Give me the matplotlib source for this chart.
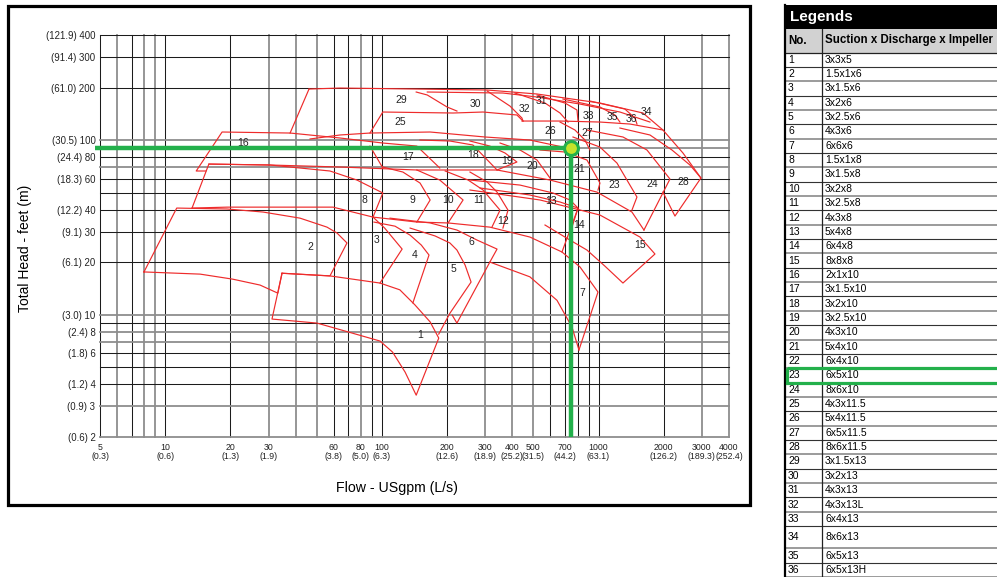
import matplotlib.pyplot as plt
from matplotlib.patches import Rectangle
from matplotlib.ticker import NullLocator

plt.rcParams['font.family'] = ['Liberation Sans', 'DejaVu Sans']

red = '#ee2b2b'
green = '#23b04b'

# axis ticks: US gpm / ft with metric equivalents
x_ticks = [5, 10, 20, 30, 60, 80, 100, 200, 300, 400, 500, 700, 1000, 2000, 3000, 4000]
x_ls = ['0.3', '0.6', '1.3', '1.9', '3.8', '5.0', '6.3', '12.6', '18.9', '25.2',
        '31.5', '44.2', '63.1', '126.2', '189.3', '252.4']
y_ticks = [2, 3, 4, 6, 8, 10, 20, 30, 40, 60, 80, 100, 200, 300, 400]
y_m = ['0.6', '0.9', '1.2', '1.8', '2.4', '3.0', '6.1', '9.1', '12.2', '18.3',
       '24.4', '30.5', '61.0', '91.4', '121.9']

x_grid = [5, 6, 7, 8, 9, 10, 20, 30, 40, 50, 60, 70, 80, 90, 100, 200, 300, 400,
          500, 600, 700, 800, 900, 1000, 2000, 3000, 4000]
x_grid_grey = [6, 8, 9, 30, 40, 50, 80, 300, 400, 500, 3000, 4000]
y_grid = [2, 3, 4, 5, 6, 7, 8, 9, 10, 20, 30, 40, 50, 60, 70, 80, 90, 100, 200, 300, 400]
y_grid_grey = [2, 3, 7, 8, 10, 70, 90, 100]

# coverage outlines (flow gpm, head ft)
coverage_lines = [
    ([34.6, 57.6, 98.0, 121, 142, 167, 183, 144, 128, 112, 98.0, 67.5, 50.2, 31.1, 34.6],
     [17.3, 16.7, 15.2, 13.9, 11.4, 9.1, 7.35, 3.46, 4.69, 6.11, 7.07, 8.07, 8.96, 9.45, 17.3]),
    ([7.98, 11.3, 19.3, 28.3, 41.9, 55.8, 62.1, 69.0, 57.6, 34.6, 33.1, 27.4, 20.5, 14.5, 7.98],
     [17.6, 40.9, 40.4, 38.8, 35.8, 31.8, 29.4, 25.8, 16.7, 17.3, 13.3, 14.8, 16.0, 17.1, 17.6]),
    ([13.3, 19.3, 59.5, 91.0, 145, 202, 315, 482, 678, 821, 994, 812],
     [40.9, 41.4, 41.4, 36.3, 34.0, 33.6, 31.8, 27.9, 22.9, 18.8, 13.5, 6.28]),
    ([812, 754, 643, 482, 315], [6.28, 8.50, 12.1, 16.5, 20.05]),
    ([91.0, 103, 124, 98.0], [36.3, 31.4, 23.8, 15.2]),
    ([91.9, 115, 135, 152, 165, 139], [34.0, 32.2, 28.6, 25.1, 22.0, 11.7]),
    ([135, 176, 206, 222, 242, 258, 206, 183], [31.4, 28.3, 25.8, 23.5, 19.3, 15.4, 10.2, 7.75]),
    ([109, 167, 222, 275, 340, 315, 222, 211], [35.8, 33.6, 30.6, 26.8, 23.8, 20.05, 8.96, 9.96]),
    ([13.3, 15.9, 30.4, 57.6, 76.7, 101, 91.0], [40.9, 73.1, 72.2, 66.7, 59.2, 49.9, 36.3]),
    ([101, 125, 150, 167, 145], [70.3, 65.8, 56.9, 45.5, 34.0]),
    ([145, 185, 237, 202], [67.6, 59.2, 45.5, 33.6]),
    ([196, 250, 293, 351, 322], [66.7, 59.2, 51.9, 39.8, 31.8]),
    ([255, 306, 340, 382, 362], [65.8, 57.7, 50.5, 39.8, 31.4]),
    ([255, 434, 616, 738, 804, 754], [59.2, 55.4, 49.9, 45.5, 40.9, 31.8]),
    ([284, 482, 664, 804, 678], [53.3, 48.6, 44.3, 40.9, 22.9]),
    ([255, 537, 1015, 1553, 1821, 1296, 1070, 884, 738, 566],
     [51.9, 45.5, 37.3, 27.9, 22.3, 15.2, 19.0, 23.5, 26.8, 32.7]),
    ([15.4, 13.9, 18.3, 37.7, 64.1, 101, 145, 185], [66.7, 66.7, 111.6, 110.1, 103.1, 96.5, 92.7, 69.4]),
    ([88.1, 101], [92.7, 69.4]),
    ([15.9, 30.4, 64.1, 145, 340, 597, 983, 1426, 1620], [73.1, 72.2, 70.3, 67.6, 67.6, 59.2, 50.5, 38.8, 30.6]),
    ([46.6, 64.1, 88.1, 167, 299, 482, 685], [101.8, 107.3, 110.1, 111.6, 104.5, 100.4, 91.5]),
    ([150, 206, 263, 340], [100.4, 99.1, 94.0, 67.6]),
    ([255, 315, 370, 420, 340], [99.1, 92.7, 84.6, 75.1, 67.6]),
    ([351, 434, 520, 597], [96.5, 88.0, 77.1, 60.8]),
    ([537, 700, 884, 1015, 994], [88.0, 85.7, 77.1, 56.9, 51.9]),
    ([762, 1015, 1216, 1504, 1426], [104.5, 91.5, 74.1, 47.3, 39.8]),
    ([884, 1296, 1673, 2136, 1620], [114.6, 104.5, 88.0, 60.0, 30.6]),
    ([1255, 1727, 2182, 2641, 2969, 2252, 1982], [117.6, 107.3, 88.0, 72.2, 60.8, 36.8, 50.5]),
    ([664, 778, 865, 913], [127.3, 114.6, 100.4, 88.0]),
    ([46.1, 64.1, 144, 306, 520, 1015, 1603, 1982, 2452, 2969],
     [196.8, 199.4, 196.8, 194.3, 184.3, 163.6, 143.4, 114.6, 84.6, 60.8]),
    ([37.7, 46.1], [110.1, 196.8]),
    ([144, 162, 200, 222], [189.2, 181.9, 155.2, 147.2]),
    ([306, 390, 443, 448], [191.8, 157.2, 134.2, 129.0]),
    ([411, 566, 664, 723], [186.7, 163.6, 143.4, 127.3]),
    ([520, 700, 795, 804], [181.9, 163.6, 149.2, 129.0]),
    ([685, 1015, 1190, 1255], [172.5, 155.2, 139.7, 127.3]),
    ([913, 1323, 1472, 1504], [168.0, 151.1, 134.2, 124.0]),
    ([443, 664, 1015, 1396, 1982], [129.0, 129.0, 127.3, 124.0, 114.6]),
    ([88.1, 101, 213, 293, 420, 448], [110.1, 145.3, 143.4, 145.3, 139.7, 129.0]),
    ([162, 362, 520, 821, 1255, 1727], [189.2, 186.7, 177.1, 161.4, 145.3, 127.3]),
]

# region numbers and where they sit
label_no = [1, 2, 3, 4, 5, 6, 7, 8, 9, 10, 11, 12, 13, 14, 15, 16, 17, 18, 19, 20,
            21, 23, 24, 25, 26, 27, 28, 29, 30, 31, 32, 33, 34, 35, 36]
label_q = [150, 46.6, 94.9, 141, 215, 258, 838, 82.7, 138, 202, 281, 362, 603, 812, 1553,
           22.8, 132, 263, 378, 493, 812, 1178, 1764, 121, 597, 884, 2452, 122.5, 269,
           548, 457, 894, 1655, 1153, 1411]
label_h = [7.65, 24.4, 26.8, 22.0, 18.3, 26.1, 13.3, 45.5, 45.5, 45.5, 45.5, 34.5, 44.9, 32.7,
           25.1, 96.5, 80.2, 82.3, 76.1, 71.2, 68.4, 55.4, 56.2, 127.3, 113.1, 110.1, 57.7,
           170.2, 161.4, 168.0, 151.1, 137.9, 145.3, 136.1, 132.4]

# selected duty point and pump
sel_q, sel_h = 745, 90
sel_row = 23

sizes = ['3x3x5', '1.5x1x6', '3x1.5x6', '3x2x6', '3x2.5x6', '4x3x6', '6x6x6', '1.5x1x8',
         '3x1.5x8', '3x2x8', '3x2.5x8', '4x3x8', '5x4x8', '6x4x8', '8x8x8', '2x1x10',
         '3x1.5x10', '3x2x10', '3x2.5x10', '4x3x10', '5x4x10', '6x4x10', '6x5x10', '8x6x10',
         '4x3x11.5', '5x4x11.5', '6x5x11.5', '8x6x11.5', '3x1.5x13', '3x2x13', '4x3x13',
         '4x3x13L', '6x4x13', '8x6x13', '6x5x13', '6x5x13H']

W, H = 997, 577
fig = plt.figure(figsize=(W / 100, H / 100), dpi=100)
ax = fig.add_axes([100 / W, 1 - 436.7 / H, 629 / W, 401.4 / H])
ax.set_xscale('log')
ax.set_yscale('log')
ax.set_xlim(5, 4000)
ax.set_ylim(2, 400)

for v in x_grid:
    grey = v in x_grid_grey
    ax.axvline(v, color='#8e8e8e' if grey else '#1c1c1c', lw=1.3 if grey else 0.75,
               zorder=1, clip_on=False)
for v in y_grid:
    grey = v in y_grid_grey
    ax.axhline(v, color='#8e8e8e' if grey else '#1c1c1c', lw=1.3 if grey else 0.75,
               zorder=1, clip_on=False)

for q, h in coverage_lines:
    ax.plot(q, h, color=red, lw=0.85, zorder=3)

for n, q, h in zip(label_no, label_q, label_h):
    ax.text(q, h, str(n), fontsize=7.5, ha='center', va='center', color='#222222', zorder=4)

# selection cross-hair
x0 = ax.get_xlim()[0] * 0.95
ax.plot([x0, sel_q], [sel_h, sel_h], color=green, lw=3.2, solid_capstyle='butt',
        clip_on=False, zorder=5)
ax.plot([sel_q, sel_q], [sel_h, ax.get_ylim()[0]], color=green, lw=3.2,
        solid_capstyle='butt', zorder=5)
ax.plot(sel_q, sel_h, 'o', ms=10, mfc='#c6e32a', mec=green, mew=2.2, zorder=6)

ax.set_xticks(x_ticks)
ax.set_xticklabels(['%d\n(%s)' % (v, m) for v, m in zip(x_ticks, x_ls)],
                   linespacing=1.05, fontsize=6.3)
ax.set_yticks(y_ticks)
ax.set_yticklabels(['(%s) %d' % (m, v) for v, m in zip(y_ticks, y_m)], fontsize=6.9)
ax.xaxis.set_minor_locator(NullLocator())
ax.yaxis.set_minor_locator(NullLocator())
ax.tick_params(axis='both', length=0, colors='#222222')
ax.tick_params(axis='x', pad=4.5)
ax.tick_params(axis='y', pad=3.3)
for s in ax.spines.values():
    s.set_visible(False)

fig.text(396.5 / W, 1 - 488.3 / H, 'Flow - USgpm (L/s)', fontsize=10.2,
         ha='center', va='center')
fig.text(25 / W, 1 - 248.5 / H, 'Total Head - feet (m)', fontsize=10,
         rotation=90, ha='center', va='center')

# overlay in pixel units for the frame and legend table
ov = fig.add_axes([0, 0, 1, 1])
ov.set_xlim(0, W)
ov.set_ylim(H, 0)
ov.axis('off')

ov.add_patch(Rectangle((8, 6), 742, 499, fill=False, ec='black', lw=2.3))

tx0, tcol = 785, 821.5
ov.add_patch(Rectangle((tx0, 5), 215, 23.5, fc='black', ec='none'))
ov.text(790, 17, 'Legends', color='white', fontsize=11, fontweight='bold', va='center')
ov.add_patch(Rectangle((tx0, 28.5), 215, 24, fc='#d2d2d2', ec='none'))
ov.text(788, 40.5, 'No.', fontsize=8.3, fontweight='bold', va='center')
ov.text(825, 40.5, 'Suction x Discharge x Impeller', fontsize=8.3,
        fontweight='bold', va='center')

row_h = [22.3 if i == 34 else 14.35 for i in range(1, len(sizes) + 1)]
top = 52.5
ov.plot([tx0, W], [top, top], color='#222222', lw=0.9)
for i, (name, rh) in enumerate(zip(sizes, row_h), start=1):
    cy = top + rh / 2
    ov.text(788, cy, str(i), fontsize=7.5, va='center')
    ov.text(825, cy, name, fontsize=7.5, va='center')
    bot = top + rh
    ov.plot([tx0, W], [bot, bot], color='#333333' if i % 2 else '#8a8a8a',
            lw=0.8 if i % 2 else 1.2)
    if i == sel_row:
        ov.add_patch(Rectangle((tx0 + 1.5, top), W - tx0, rh, fill=False,
                               ec=green, lw=2.3, zorder=5))
    top = bot

ov.plot([tx0, tx0], [5, H], color='black', lw=1.6)
ov.plot([tcol, tcol], [28.5, H], color='#222222', lw=0.9)

fig.savefig('out.png', dpi=100)
